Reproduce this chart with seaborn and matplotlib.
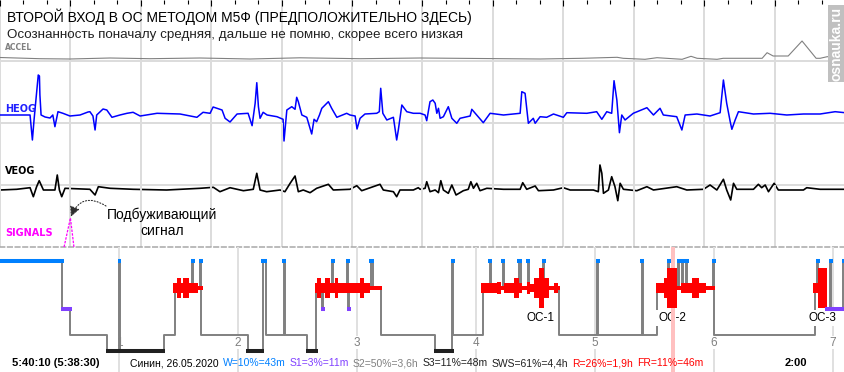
import matplotlib
matplotlib.use("Agg")
import matplotlib.pyplot as plt
from matplotlib.patches import Rectangle
from matplotlib.ticker import MultipleLocator
import seaborn as sns

# ---------------- data ----------------
# 36-second signal window: (seconds, amplitude relative to channel baseline)
accel = [(0.00, 0.8), (1.70, -0.4), (2.98, -0.7), (4.69, 0.3), (6.39, -0.4), (8.52, 0.3),
         (10.65, -0.7), (12.78, 0.5), (15.34, -0.4), (17.90, 0.3), (20.45, -0.2), (23.01, -0.7),
         (24.80, 0.0), (26.29, 1.0), (26.55, 0.0), (27.48, -1.0), (27.99, 0.6), (29.06, -1.0),
         (29.44, 2.0), (29.70, 0.0), (30.55, -1.0), (30.81, 0.0), (32.47, 0.0), (32.68, 5.6),
         (32.94, 2.3), (33.58, 2.3), (34.17, 17.3), (34.77, 0.0), (34.94, 0.0), (35.24, 1.6),
         (36.00, 1.3)]

heog = [(0.00, -0.5), (1.28, -0.5), (1.38, -25.5), (1.45, -5.5), (1.58, 26.5), (1.63, 39.5),
        (1.68, 38.5), (1.70, 19.5), (1.75, -0.5), (1.92, -2.5), (2.13, -3.5), (2.25, -0.5),
        (2.34, -12.2), (2.47, 2.8), (2.68, 1.2), (2.98, -1.5), (3.41, -0.5), (3.75, 2.5),
        (3.83, 2.8), (3.96, -1.5), (4.05, -15.5), (4.12, -0.5), (4.39, 5.5), (4.55, 4.5),
        (4.77, -2.8), (5.11, -0.5), (5.41, 1.2), (5.67, 2.2), (5.97, -1.5), (6.69, 1.2),
        (7.67, 0.5), (8.39, -2.8), (8.65, 2.2), (8.95, 1.2), (9.08, 7.5), (9.46, 4.5),
        (9.59, -3.8), (9.80, -7.5), (10.10, 0.5), (10.57, 1.2), (10.74, -11.2), (10.87, 11.2),
        (10.94, 31.8), (11.01, 7.8), (11.08, -3.8), (11.21, 2.2), (11.38, -0.5), (11.80, -2.2),
        (12.06, -4.8), (12.10, -26.5), (12.22, 4.5), (12.43, 7.8), (12.57, 5.2), (12.64, 17.2),
        (12.71, 12.8), (12.86, -0.5), (13.07, -2.8), (13.28, -19.5), (13.38, -4.8), (13.49, -7.2),
        (13.61, -0.5), (13.71, 6.2), (13.99, 12.8), (14.13, 6.2), (14.35, -2.8), (14.77, 1.2),
        (14.91, -0.5), (15.13, -1.5), (15.21, -14.5), (15.34, -3.8), (15.55, 0.5), (16.05, 1.2),
        (16.16, 2.8), (16.22, 26.2), (16.31, 1.2), (16.48, -5.5), (16.76, -2.8), (16.90, -25.5),
        (16.97, -15.5), (17.12, 9.5), (17.33, 2.8), (17.61, 1.2), (17.90, 1.2), (18.11, -0.5),
        (18.18, -6.2), (18.32, 12.8), (18.44, 14.5), (18.54, 11.2), (18.61, 1.2), (18.68, 6.2),
        (18.75, -3.8), (18.89, -2.2), (19.10, 7.8), (19.25, -3.8), (19.46, -8.8), (19.60, -3.8),
        (20.03, -1.5), (20.10, 5.2), (20.31, -0.5), (20.59, -8.2), (20.88, 1.2), (21.45, -0.5),
        (22.16, 1.2), (22.23, 22.8), (22.37, 21.2), (22.51, -8.8), (22.72, -3.8), (22.80, -8.8),
        (23.01, -2.2), (23.29, -2.8), (23.58, 0.5), (24.00, -2.8), (24.15, 1.8), (25.00, 1.2),
        (25.42, 2.8), (25.64, -4.8), (25.85, 2.8), (26.06, 1.2), (26.16, 33.8), (26.28, 14.5),
        (26.39, -18.2), (26.49, -0.5), (26.63, -5.5), (26.98, 1.2), (27.56, 6.8), (27.84, -0.5),
        (28.12, 6.2), (28.26, -0.5), (28.83, -2.2), (29.05, -15.5), (29.19, -0.5), (29.69, 0.5),
        (30.25, -1.5), (30.68, 1.8), (30.82, 34.5), (30.96, 11.2), (31.11, -7.2), (31.18, -14.8),
        (31.32, -5.5), (31.46, 2.8), (32.10, 0.5), (32.81, 1.2), (33.52, -0.5), (34.23, 0.5),
        (34.94, 0.5), (35.58, 2.8), (36.00, 1.8)]

veog = [(0.00, -0.7), (0.71, 0.0), (1.28, 1.6), (1.42, -7.4), (1.56, 2.6), (1.67, 8.6),
        (1.85, -0.7), (2.34, -0.7), (2.44, 14.3), (2.53, -0.7), (2.63, -7.4), (2.77, 1.0),
        (3.83, 0.0), (4.05, -5.7), (4.19, 2.6), (4.69, 1.0), (5.68, 0.0), (7.10, -0.7),
        (8.52, 1.0), (9.09, 2.0), (9.37, -2.4), (9.80, 1.6), (10.37, -1.4), (10.79, 0.0),
        (10.94, 16.0), (11.08, -0.7), (11.36, -2.4), (11.93, -0.7), (12.14, -2.4), (12.36, 6.0),
        (12.57, 13.3), (12.71, -2.4), (12.92, -0.7), (13.21, -3.4), (13.49, 1.0), (13.99, 5.0),
        (14.20, -0.7), (14.91, 0.0), (15.20, 3.6), (15.41, -1.4), (16.19, 5.0), (16.33, -0.7),
        (16.76, -2.4), (16.90, -7.4), (17.04, -0.7), (17.61, -0.7), (17.82, 1.6), (17.90, 0.0),
        (18.11, 1.0), (18.18, 7.6), (18.32, -2.4), (18.54, -0.7), (18.68, -3.4), (18.78, 8.6),
        (18.89, -0.7), (19.10, -4.0), (19.25, 4.3), (19.43, -5.7), (19.74, -1.4), (19.95, 0.0),
        (20.06, 7.6), (20.17, 1.0), (20.31, 6.0), (20.45, -1.4), (20.74, 1.0), (21.45, 0.0),
        (22.16, 0.0), (22.27, 6.6), (22.44, 0.0), (22.80, 3.3), (22.94, -1.4), (23.58, -0.7),
        (24.00, 1.6), (24.29, -0.7), (25.28, -0.7), (25.49, -2.4), (25.56, 24.3), (25.64, 16.0),
        (25.71, -4.0), (25.92, -0.7), (26.06, 12.6), (26.20, 2.6), (26.32, -11.4), (26.42, 6.0),
        (26.56, 0.0), (27.13, -1.4), (27.56, 2.6), (27.84, -0.7), (28.83, 2.6), (29.26, -0.7),
        (29.97, 0.0), (30.25, 4.3), (30.54, -0.7), (30.82, 10.0), (30.96, -0.7), (31.13, -10.7),
        (31.25, 6.0), (31.39, 0.0), (32.10, 0.0), (32.31, 5.0), (32.45, 1.6), (32.60, 4.3),
        (32.74, -2.4), (32.98, 6.0), (33.16, -0.7), (34.23, -0.7), (34.37, 1.6), (34.94, 0.0),
        (36.00, 0.0)]

signal = [(2.73, 0.0), (3.00, 29.0), (3.15, 0.0)]

# hypnogram, in 30-second epochs
stage_start = [0, 63, 71, 108, 120, 121, 165, 176, 194, 195, 202, 203, 250, 265, 268, 286,
               287, 310, 319, 325, 326, 335, 336, 350, 351, 352, 374, 376, 384, 439, 456, 457,
               487, 494, 495, 507, 508, 523, 525, 532, 533, 548, 549, 564, 602, 603, 647, 648,
               662, 674, 675, 684, 685, 688, 689, 692, 693, 719, 720, 822, 824, 825, 833, 837,
               838, 850]
stage_name = ["W", "S1", "S2", "S3", "W", "S3", "S2", "R", "W", "R", "W", "S2", "S3", "W", "S2", "W",
              "S2", "S3", "R", "S1", "R", "W", "R", "W", "S1", "R", "W", "R", "S2", "S3", "W", "S2",
              "R", "W", "R", "W", "R", "W", "R", "W", "R", "W", "R", "S2", "W", "S2", "W", "S2",
              "R", "W", "R", "W", "R", "W", "R", "W", "R", "W", "S2", "R", "W", "R", "S1", "W",
              "S1", "W"]
night_end = 852

# eye-movement density during REM: (start epoch, end epoch, density)
rem_density = [(174, 178, 5), (178, 183, 10), (183, 185, 5), (185, 191, 10), (191, 200, 5), (200, 205, 2),
               (318, 320, 5), (320, 324, 10), (324, 328, 5), (328, 333, 10), (333, 338, 5), (338, 341, 10),
               (341, 363, 5), (363, 367, 10), (367, 373, 5), (373, 385, 2),
               (485, 501, 5), (501, 505, 6), (505, 508, 2), (508, 518, 5), (518, 523, 10), (523, 526, 5),
               (526, 531, 2), (531, 534, 6), (534, 538, 4), (538, 543, 10), (543, 549, 20), (549, 554, 10),
               (554, 559, 2), (559, 563, 5), (563, 565, 2),
               (661, 670, 5), (670, 673, 10), (673, 683, 20), (683, 687, 2), (687, 698, 5), (698, 705, 10),
               (705, 712, 5), (712, 721, 2),
               (820, 825, 5), (825, 834, 20)]

marker_span = (677, 681)
oc_labels = ["ОС-1", "ОС-2", "ОС-3"]
oc_epochs = [545, 678, 829]
hour_labels = ["1", "2", "3", "4", "5", "6", "7"]

title = "ВТОРОЙ ВХОД В ОС МЕТОДОМ М5Ф (ПРЕДПОЛОЖИТЕЛЬНО ЗДЕСЬ)"
subtitle = "Осознанность поначалу средняя, дальше не помню, скорее всего низкая"
duration_text = "5:40:10 (5:38:30)"
clock_text = "2:00"
stats_text = ["Синин, 26.05.2020", "W=10%=43m", "S1=3%=11m", "S2=50%=3,6h",
              "S3=11%=48m", "SWS=61%=4,4h", "R=26%=1,9h", "FR=11%=46m"]

# ---------------- style ----------------
W_BLUE, PURPLE, RED, GRAY, DARK = "#0080ff", "#8040ff", "#ff0000", "#808080", "#202020"
GRID = "#dcdcdc"
stats_color = ["black", W_BLUE, PURPLE, GRAY, DARK, DARK, RED, RED]
stage_y = {"W": 14, "R": 40.7, "S1": 62, "S2": 87.5, "S3": 103.5}
stage_color = {"W": W_BLUE, "S1": PURPLE, "S3": DARK}

sns.set_theme(style="white")
plt.rcParams["font.family"] = ["Liberation Sans", "DejaVu Sans"]

W_PX, H_PX = 845, 372
fig = plt.figure(figsize=(W_PX / 100, H_PX / 100), dpi=100)


def fx(x):
    return x / W_PX


def fy(y):
    return 1 - y / H_PX


# ---------------- signal rows ----------------
row_edges = [0, 61, 123, 185, 247]
row_base = [58.3, 114.5, 189.3, 247]
channels = [("ACCEL", accel, GRAY, 0.8, 5.5, 48),
            ("HEOG", heog, "#0000ff", 1.1, 7, 109),
            ("VEOG", veog, "black", 1.2, 7, 171),
            ("SIGNALS", signal, "#ff00ff", 0.9, 7, 233)]
label_color = [GRAY, "#2020ff", "black", "#ff00ff"]

row_axes = []
for i, (name, pts, col, lw, fs, label_y) in enumerate(channels):
    top, bottom, base = row_edges[i], row_edges[i + 1], row_base[i]
    ax = fig.add_axes([0, fy(bottom), 1, (bottom - top) / H_PX])
    ax.patch.set_visible(False)
    t = [p[0] for p in pts]
    v = [p[1] for p in pts]
    if name == "SIGNALS":
        ax.plot(t, v, color=col, lw=lw, ls=(0, (2, 1)), clip_on=False, zorder=3)
    else:
        sns.lineplot(x=t, y=v, ax=ax, color=col, lw=lw, estimator=None, sort=False,
                     clip_on=False, zorder=3)
    ax.set_xlim(0, 36)
    ax.set_ylim(-(bottom - base), base - top)
    ax.set_xlabel("")
    ax.set_ylabel("")
    ax.set_yticks([])
    ax.xaxis.set_major_locator(MultipleLocator(3))
    ax.grid(axis="x", color=GRID, lw=1.4)
    ax.tick_params(axis="x", which="both", labelbottom=False, bottom=False)
    for s in ["left", "right", "top"]:
        ax.spines[s].set_visible(False)
    ax.spines["bottom"].set_color(GRID if i < 3 else "#a8a8a8")
    ax.spines["bottom"].set_linewidth(1.4 if i < 3 else 1.1)
    if i == 3:
        ax.spines["bottom"].set_linestyle((0, (3, 2)))
    fig.text(fx(5), fy(label_y), name, color=label_color[i], fontsize=fs,
             fontweight="bold", family="DejaVu Sans", ha="left", va="center")
    row_axes.append(ax)

top_ax = row_axes[0]
top_ax.xaxis.set_minor_locator(MultipleLocator(1))
top_ax.tick_params(axis="x", which="major", top=True, direction="in", length=4.3,
                   width=0.8, color="black")
top_ax.tick_params(axis="x", which="minor", top=True, bottom=False, direction="in",
                   length=2.9, width=0.8, color="black")

# annotation of the wake-up signal
sig_ax = row_axes[3]
sig_ax.annotate("", xy=signal[1], xycoords="data",
                xytext=(fx(106), fy(206)), textcoords="figure fraction",
                arrowprops=dict(arrowstyle="-|>", color="#303030", lw=0.8, ls=":",
                                connectionstyle="arc3,rad=0.6", mutation_scale=15,
                                shrinkA=0, shrinkB=1))
fig.text(fx(162), fy(222.5), "Подбуживающий\nсигнал", fontsize=10, ha="center",
         va="center", multialignment="center", color="black")

# ---------------- hypnogram ----------------
ax_h = fig.add_axes([0, 0, 1, (H_PX - 247) / H_PX])
ax_h.patch.set_visible(False)

for h, lab in enumerate(hour_labels, start=1):
    ax_h.axvline(120 * h, color="#e0e0e0", lw=1.4, zorder=0.5)
    ax_h.text(120 * h, 95.5, lab, ha="center", va="center", color=GRAY, fontsize=8.5,
              zorder=0.8, bbox=dict(fc="white", ec="none", pad=0.5))

ax_h.axvspan(*marker_span, color="#ffc0c0", lw=0, zorder=1.5)

step_x = stage_start + [night_end]
step_y = [stage_y[s] for s in stage_name] + [stage_y[stage_name[-1]]]
sns.lineplot(x=step_x, y=step_y, ax=ax_h, drawstyle="steps-post", estimator=None,
             sort=False, color=GRAY, lw=1.4, zorder=1)

seg_end = stage_start[1:] + [night_end]
for s, e, name in zip(stage_start, seg_end, stage_name):
    if name in stage_color:
        ax_h.hlines(stage_y[name], s - 1.5, e + 1.5, color=stage_color[name], lw=2.9,
                    zorder=3)

for s, e, d in rem_density:
    hgt = 2 * d
    ax_h.bar(s, hgt, width=e - s, bottom=stage_y["R"] - hgt / 2, align="edge",
             color=RED, lw=0, zorder=2)

for lab, ep in zip(oc_labels, oc_epochs):
    ax_h.text(ep, 71, lab, ha="center", va="center", fontsize=8.5, color="black",
              zorder=1.2, bbox=dict(fc="white", ec="none", pad=1.5))

ax_h.set_xlim(0, night_end)
ax_h.set_ylim(125, 0)
ax_h.axis("off")

# ---------------- texts ----------------
fig.text(fx(7), fy(16.5), title, fontsize=10, ha="left", va="center", color="black")
fig.text(fx(7), fy(35), subtitle, fontsize=9.6, ha="left", va="center", color=DARK)
fig.text(fx(12), fy(363), duration_text, fontsize=8, fontweight="bold", ha="left",
         va="center", color="black")
fig.text(fx(785), fy(363), clock_text, fontsize=8, fontweight="bold", ha="left",
         va="center", color="black")

fig.canvas.draw()
renderer = fig.canvas.get_renderer()
x = 130
for txt, col in zip(stats_text, stats_color):
    t = fig.text(fx(x), fy(363), txt, color=col, fontsize=7.5, ha="left", va="center")
    x = t.get_window_extent(renderer).x1 + 4

# watermark
fig.add_artist(Rectangle((fx(828), fy(82)), 17 / W_PX, 77 / H_PX,
                         transform=fig.transFigure, fc="#c0c0c0", ec="none", zorder=10))
fig.text(fx(836.5), fy(43.5), "osnauka.ru", rotation=90, color="white", fontsize=10,
         fontweight="bold", ha="center", va="center", zorder=11)

fig.savefig("out.png", dpi=100)
